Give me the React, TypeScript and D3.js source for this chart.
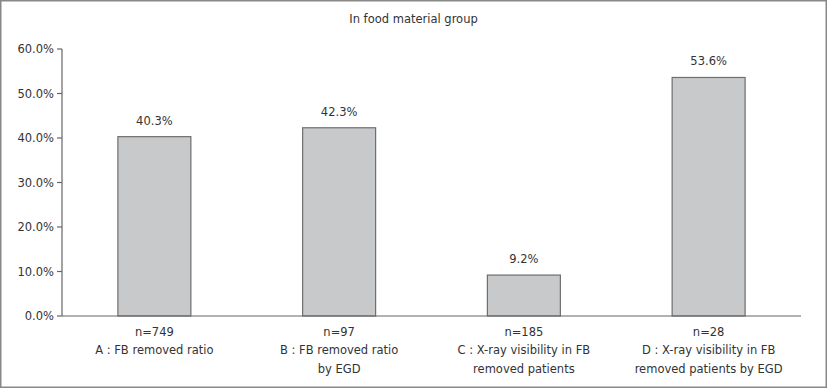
import * as d3 from 'd3';

const TITLE = 'In food material group';
const CATEGORIES = ['A', 'B', 'C', 'D'];
const VALUES = [40.3, 42.3, 9.2, 53.6];
const COUNTS = ['n=749', 'n=97', 'n=185', 'n=28'];
const LABELS = [
  ['A : FB removed ratio'],
  ['B : FB removed ratio', 'by EGD'],
  ['C : X-ray visibility in FB', 'removed patients'],
  ['D : X-ray visibility in FB', 'removed patients by EGD'],
];
const Y_TICKS = [0, 10, 20, 30, 40, 50, 60];

const WIDTH = 827;
const HEIGHT = 388;
const MARGIN = { top: 49, right: 26, bottom: 72, left: 62 };
const FONT = '"DejaVu Sans", sans-serif';

const App = () => {
  const boundsWidth = WIDTH - MARGIN.left - MARGIN.right;
  const boundsHeight = HEIGHT - MARGIN.top - MARGIN.bottom;

  const xScale = d3
    .scaleBand()
    .domain(CATEGORIES)
    .range([0, boundsWidth])
    .paddingInner(0.605)
    .paddingOuter(0.3025);

  const yScale = d3.scaleLinear().domain([0, 60]).range([boundsHeight, 0]);

  const bars = CATEGORIES.map((c, i) => {
    const x = xScale(c) ?? 0;
    const y = yScale(VALUES[i]);
    const cx = x + xScale.bandwidth() / 2;
    return (
      <g key={c}>
        <rect
          x={x}
          y={y}
          width={xScale.bandwidth()}
          height={boundsHeight - y}
          fill="#c8c9cb"
          stroke="#6e6e6e"
          strokeWidth={1.2}
        />
        <text x={cx} y={y - 12} textAnchor="middle" fontSize={11.5} fill="#333">
          {VALUES[i].toFixed(1) + '%'}
        </text>
        <text x={cx} y={boundsHeight + 20} textAnchor="middle" fontSize={11.5} fill="#333">
          {COUNTS[i]}
        </text>
        {LABELS[i].map((line, j) => (
          <text
            key={j}
            x={cx}
            y={boundsHeight + 38 + j * 19}
            textAnchor="middle"
            fontSize={11.5}
            fill="#333"
          >
            {line}
          </text>
        ))}
      </g>
    );
  });

  // y axis with ticks on the left
  const yAxis = (
    <g>
      <line x1={0} x2={0} y1={0} y2={boundsHeight} stroke="#666" strokeWidth={1.2} />
      {Y_TICKS.map((t) => (
        <g key={t} transform={`translate(0,${yScale(t)})`}>
          <line x1={-5} x2={0} stroke="#666" strokeWidth={1.2} />
          <text x={-8} dy="0.35em" textAnchor="end" fontSize={11.5} fill="#333">
            {t.toFixed(1) + '%'}
          </text>
        </g>
      ))}
    </g>
  );

  return (
    <svg
      width={WIDTH}
      height={HEIGHT}
      style={{ position: 'absolute', left: 0, top: 0, fontFamily: FONT }}
    >
      <rect x={0} y={0} width={WIDTH} height={HEIGHT} fill="#fff" />
      <rect x={0.75} y={0.75} width={WIDTH - 1.5} height={HEIGHT - 1.5} fill="none" stroke="#888" strokeWidth={1.5} />
      <text x={WIDTH / 2} y={23} textAnchor="middle" fontSize={11.5} fill="#333">
        {TITLE}
      </text>
      <g transform={`translate(${MARGIN.left},${MARGIN.top})`}>
        {bars}
        {yAxis}
        <line x1={0} x2={boundsWidth} y1={boundsHeight} y2={boundsHeight} stroke="#666" strokeWidth={1.2} />
      </g>
    </svg>
  );
};

export default App;
